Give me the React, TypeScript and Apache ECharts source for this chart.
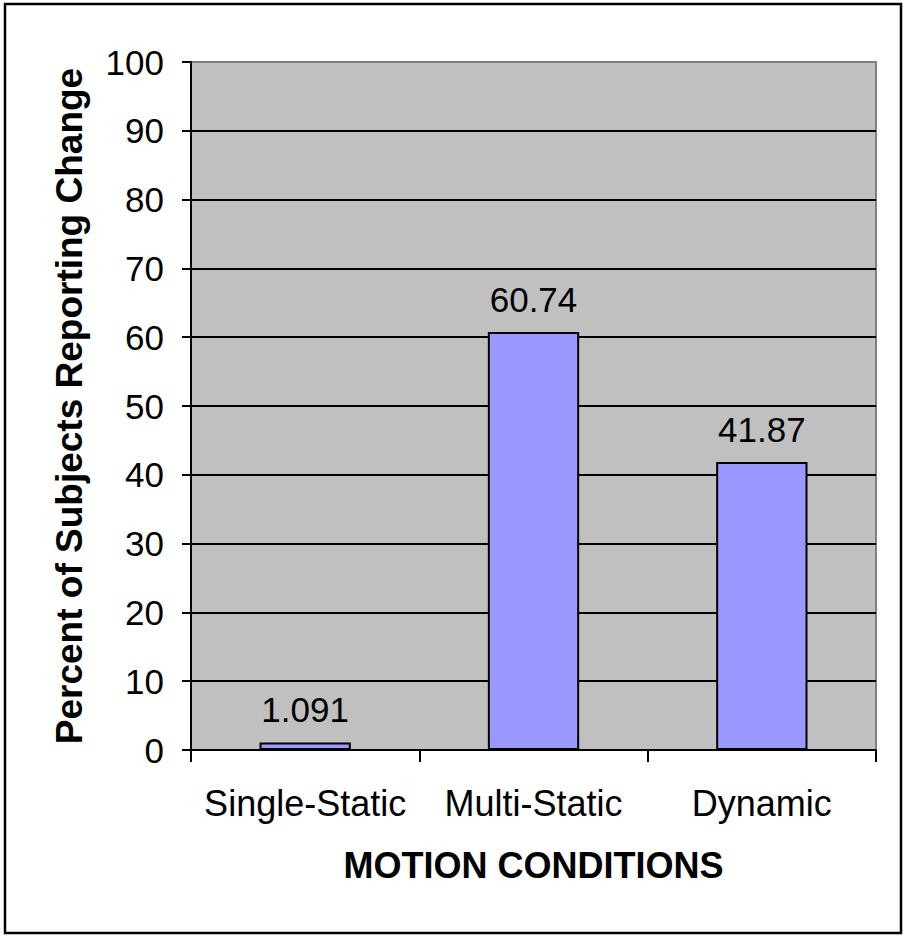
import React, { useEffect, useRef } from "react";
import * as echarts from "echarts";

const categories = ["Single-Static", "Multi-Static", "Dynamic"];
const percentReporting = [1.091, 60.74, 41.87];
const yTicks = { min: 0, max: 100, interval: 10 };
const xTitle = "MOTION CONDITIONS";
const yTitle = "Percent of Subjects Reporting Change";

const FONT = "'Liberation Sans', Arial, sans-serif";

export default function App() {
  const ref = useRef<HTMLDivElement>(null);

  useEffect(() => {
    document.body.style.margin = "0";
    const chart = echarts.init(ref.current!, null, { renderer: "svg" });
    chart.setOption({
      animation: false,
      backgroundColor: "#ffffff",
      textStyle: { fontFamily: FONT },
      grid: {
        left: 191,
        top: 62,
        right: 27,
        bottom: 187,
        show: true,
        backgroundColor: "#C0C0C0",
        borderColor: "#808080",
        borderWidth: 2,
      },
      xAxis: {
        type: "category",
        data: categories,
        name: xTitle,
        nameLocation: "middle",
        nameGap: 97,
        nameTextStyle: { fontFamily: FONT, fontSize: 36, fontWeight: "bold", color: "#000" },
        axisLine: { show: true, lineStyle: { color: "#000", width: 2 } },
        axisTick: { show: true, length: 12, lineStyle: { color: "#000", width: 2 } },
        axisLabel: { fontFamily: FONT, fontSize: 36, color: "#000", margin: 35, interval: 0 },
        splitLine: { show: false },
      },
      yAxis: {
        type: "value",
        min: yTicks.min,
        max: yTicks.max,
        interval: yTicks.interval,
        name: yTitle,
        nameLocation: "middle",
        nameGap: 103,
        nameTextStyle: { fontFamily: FONT, fontSize: 37, fontWeight: "bold", color: "#000" },
        axisLine: { show: true, lineStyle: { color: "#000", width: 2 } },
        axisTick: { show: true, inside: false, length: 9, lineStyle: { color: "#000", width: 2 } },
        axisLabel: { fontFamily: FONT, fontSize: 35, color: "#000", margin: 27 },
        splitLine: { show: true, showMaxLine: false, lineStyle: { color: "#000", width: 2 } },
      },
      series: [
        {
          type: "bar",
          data: percentReporting,
          barWidth: "40%",
          itemStyle: { color: "#9999FF", borderColor: "#000", borderWidth: 2 },
          label: {
            show: true,
            position: "top",
            distance: 15,
            fontFamily: FONT,
            fontSize: 35,
            color: "#000",
          },
        },
      ],
      graphic: [
        {
          type: "rect",
          shape: { x: 5, y: 4, width: 896, height: 929 },
          style: { fill: "none", stroke: "#000", lineWidth: 2.5 },
          z: 100,
        },
      ],
    });
    return () => chart.dispose();
  }, []);

  return (
    <div
      ref={ref}
      style={{ position: "absolute", left: 0, top: 0, width: 903, height: 937 }}
    />
  );
}
